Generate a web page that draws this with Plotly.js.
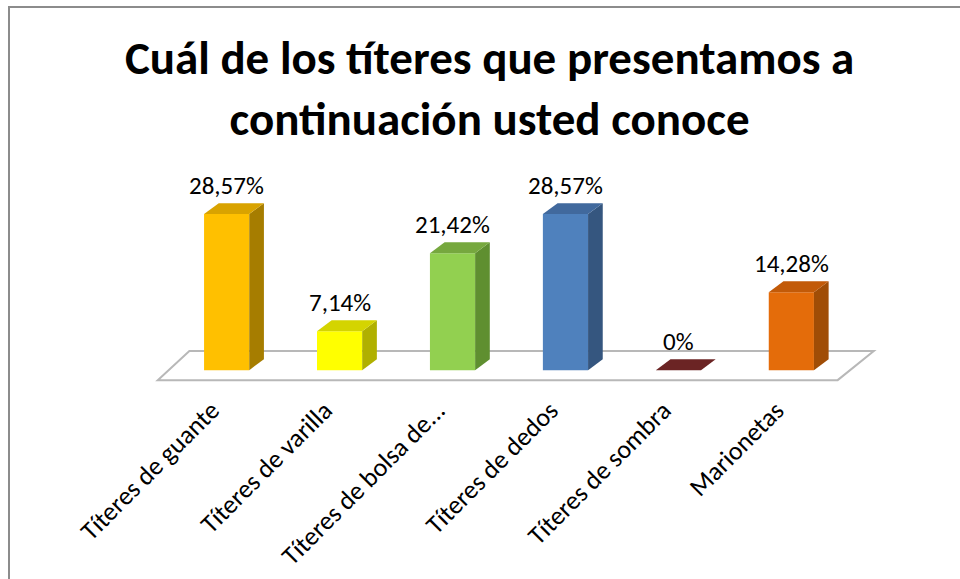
<!DOCTYPE html>
<html>
<head>
<meta charset="utf-8">
<script src="https://cdn.plot.ly/plotly-3.0.1.min.js"></script>
<style>html,body{margin:0;padding:0;background:#fff;}#chart{width:960px;height:579px;}</style>
</head>
<body>
<div id="chart"></div>
<script>
var categories = ["Títeres de guante", "Títeres de varilla", "Títeres de bolsa de...", "Títeres de dedos", "Títeres de sombra", "Marionetas"];
var values = [28.57, 7.14, 21.42, 28.57, 0, 14.28];
var labels = ["28,57%", "7,14%", "21,42%", "28,57%", "0%", "14,28%"];
var frontColors = ["#FFC000", "#FFFF00", "#92D050", "#4F81BD", "#7A2A28", "#E46C0A"];
var topColors   = ["#D9A300", "#D4D400", "#76A83E", "#41699D", "#6B2424", "#C25A08"];
var sideColors  = ["#A67D00", "#B0B000", "#5F8F30", "#35567F", "#5A1E1E", "#A04D06"];

var W = 0.4, DX = 0.13, DY = 2.0;
var idx = categories.map(function(_, i){ return i; });

var traces = [];
traces.push({
  type: 'bar', x: idx, y: values, width: W,
  marker: {color: frontColors, line: {width: 0}},
  hoverinfo: 'skip', showlegend: false
});
idx.forEach(function(i){
  var v = values[i], l = i - W/2, r = i + W/2;
  if (v > 0) {
    traces.push({
      type: 'scatter', mode: 'lines', fill: 'toself',
      x: [r, r + DX, r + DX, r, r], y: [0, DY, v + DY, v, 0],
      fillcolor: sideColors[i], line: {width: 0, color: sideColors[i]},
      hoverinfo: 'skip', showlegend: false
    });
  }
  traces.push({
    type: 'scatter', mode: 'lines', fill: 'toself',
    x: [l, l + DX, r + DX, r, l], y: [v, v + DY, v + DY, v, v],
    fillcolor: topColors[i], line: {width: 0, color: topColors[i]},
    hoverinfo: 'skip', showlegend: false
  });
});

var annotations = idx.map(function(i){
  return {
    x: i, y: values[i], xref: 'x', yref: 'y', text: labels[i],
    showarrow: false, yanchor: 'bottom', yshift: 11,
    font: {family: 'Carlito, Lato, sans-serif', size: 25, color: '#000'}
  };
});

var n = categories.length;
var plotTop = 179, plotBottom = 392, plotLeft = 125, plotW = 768;
var plotH = plotBottom - plotTop;
var layout = {
  width: 960, height: 579,
  margin: {l: plotLeft, r: 960 - plotLeft - plotW, t: plotTop, b: 579 - plotBottom, pad: 0},
  paper_bgcolor: '#fff', plot_bgcolor: 'rgba(0,0,0,0)',
  title: {
    text: 'Cuál de los títeres que presentamos a<br>continuación usted conoce',
    x: 0.51, xanchor: 'center', y: 0.872, yanchor: 'top',
    font: {family: 'Carlito, Lato, sans-serif', size: 47, color: '#000', weight: 'bold'}
  },
  xaxis: {
    range: [-0.9, n - 0.1], tickvals: idx, ticktext: categories, tickangle: -45,
    showgrid: false, zeroline: false, showline: false, ticks: '',
    ticklabelshift: -15, ticklabelstandoff: -3,
    tickfont: {family: 'Carlito, Lato, sans-serif', size: 26, color: '#000'},
    fixedrange: true
  },
  yaxis: {
    range: [-4, 35], visible: false, showgrid: false, zeroline: false, fixedrange: true
  },
  showlegend: false,
  annotations: annotations,
  shapes: [
    {type: 'path', xref: 'x', yref: 'y', layer: 'below',
     path: 'M -0.61,-1.83 L -0.33,3.5 L ' + (n - 1 + 0.73) + ',3.5 L ' + (n - 1 + 0.41) + ',-1.83 Z',
     fillcolor: '#ffffff', line: {color: '#b8b8b8', width: 2}},
    {type: 'rect', xref: 'paper', yref: 'paper', layer: 'above',
     x0: (9 - plotLeft) / plotW, x1: 1.3, y0: -2, y1: (plotBottom - 7) / plotH,
     line: {color: '#8c8c8c', width: 2}, fillcolor: 'rgba(0,0,0,0)'}
  ]
};

Plotly.newPlot('chart', traces, layout, {displayModeBar: false, staticPlot: true});
</script>
</body>
</html>
